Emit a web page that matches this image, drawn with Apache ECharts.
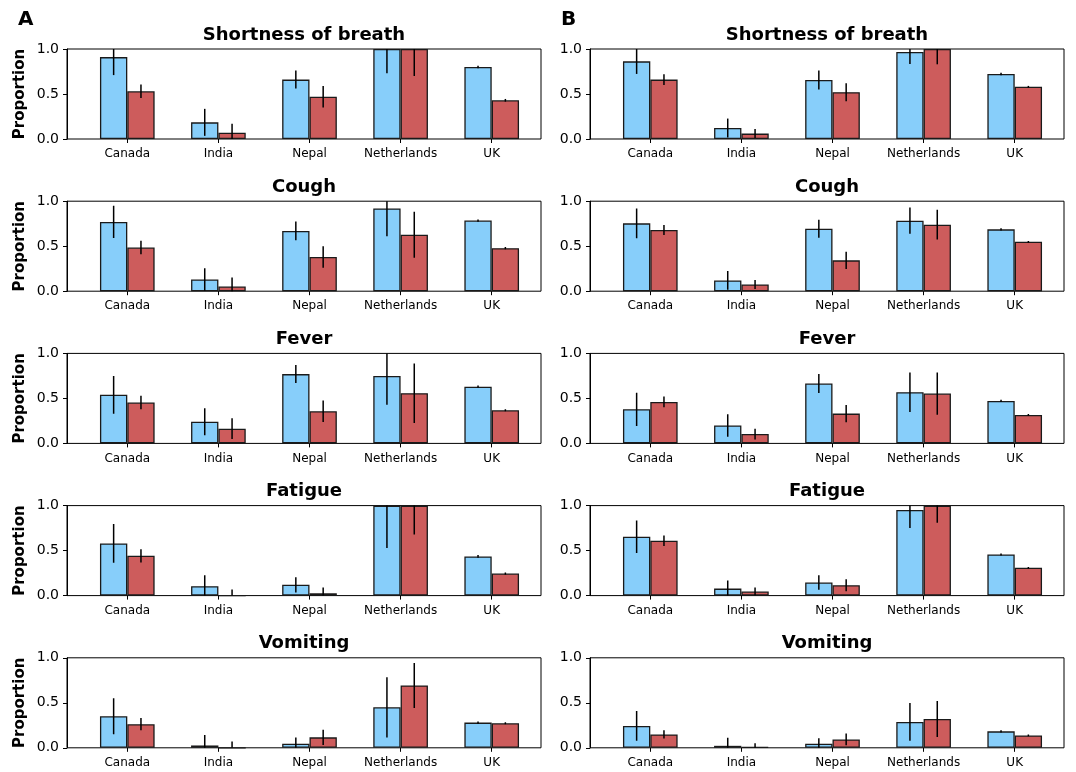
<!DOCTYPE html>
<html>
<head>
<meta charset="utf-8">
<script src="https://cdn.jsdelivr.net/npm/echarts@6/dist/echarts.min.js"></script>
<style>
  html, body { margin: 0; padding: 0; background: #fff; }
  #chart { width: 1076px; height: 772px; }
</style>
</head>
<body>
<div id="chart"></div>
<script>
// Countries on the x axis of every panel
const categories = ['Canada', 'India', 'Nepal', 'Netherlands', 'UK'];
// One row of panels per symptom
const symptoms = ['Shortness of breath', 'Cough', 'Fever', 'Fatigue', 'Vomiting'];
const panelLetters = ['A', 'B'];
const yTicks = [0, 0.5, 1.0];

// Panel A — proportions (blue / red groups) and error half-widths, one list per symptom
const aBlue = [
  [0.91, 0.185, 0.66, 1.0, 0.80],
  [0.77, 0.13, 0.67, 0.92, 0.785],
  [0.54, 0.24, 0.77, 0.75, 0.63],
  [0.58, 0.105, 0.12, 1.0, 0.435],
  [0.35, 0.026, 0.045, 0.45, 0.28]
];
const aBlueErr = [
  [0.20, 0.15, 0.10, 0.27, 0.015],
  [0.18, 0.125, 0.105, 0.31, 0.012],
  [0.21, 0.15, 0.10, 0.32, 0.012],
  [0.215, 0.12, 0.085, 0.47, 0.015],
  [0.20, 0.115, 0.07, 0.335, 0.012]
];
const aRed = [
  [0.53, 0.07, 0.47, 1.0, 0.43],
  [0.485, 0.052, 0.38, 0.627, 0.478],
  [0.454, 0.164, 0.357, 0.558, 0.368],
  [0.442, 0.0, 0.026, 1.0, 0.245],
  [0.262, 0.0, 0.116, 0.693, 0.273]
];
const aRedErr = [
  [0.075, 0.10, 0.12, 0.30, 0.015],
  [0.075, 0.10, 0.12, 0.255, 0.012],
  [0.075, 0.115, 0.12, 0.33, 0.012],
  [0.073, 0.067, 0.063, 0.32, 0.012],
  [0.068, 0.07, 0.085, 0.25, 0.01]
];

// Panel B
const bBlue = [
  [0.863, 0.122, 0.656, 0.967, 0.722],
  [0.754, 0.12, 0.694, 0.784, 0.687],
  [0.379, 0.20, 0.665, 0.569, 0.472],
  [0.654, 0.078, 0.145, 0.952, 0.457],
  [0.243, 0.022, 0.045, 0.287, 0.183]
];
const bBlueErr = [
  [0.14, 0.105, 0.105, 0.135, 0.015],
  [0.165, 0.105, 0.10, 0.145, 0.012],
  [0.185, 0.125, 0.105, 0.22, 0.012],
  [0.18, 0.09, 0.08, 0.20, 0.012],
  [0.165, 0.09, 0.06, 0.21, 0.012]
];
const bRed = [
  [0.66, 0.06, 0.52, 1.0, 0.58],
  [0.68, 0.075, 0.343, 0.739, 0.549],
  [0.461, 0.104, 0.331, 0.554, 0.316],
  [0.61, 0.045, 0.115, 1.0, 0.309],
  [0.149, 0.011, 0.093, 0.321, 0.138]
];
const bRedErr = [
  [0.06, 0.05, 0.10, 0.17, 0.01],
  [0.055, 0.05, 0.095, 0.165, 0.01],
  [0.06, 0.06, 0.095, 0.235, 0.01],
  [0.058, 0.045, 0.067, 0.19, 0.01],
  [0.045, 0.04, 0.065, 0.20, 0.01]
];

const BLUE = '#87CEFA';
const RED = '#CD5C5C';
const FONT = '"DejaVu Sans", sans-serif';

const panels = [
  { blue: aBlue, blueErr: aBlueErr, red: aRed, redErr: aRedErr },
  { blue: bBlue, blueErr: bBlueErr, red: bRed, redErr: bRedErr }
];

// Layout of the frames (axes boxes)
const colLeft = [67, 590];
const frameW = 474;
const rowTop0 = 49, rowStep = 152.2, frameH = 90;
// Width of one category band and where the first category centre sits inside a frame
const unit = 91.1;
const firstCenter = 60.3;
const innerInset = firstCenter - unit / 2;

const grid = [], xAxis = [], yAxis = [], series = [], title = [];

function errorBars(gi, vals, errs, side) {
  return {
    type: 'custom',
    xAxisIndex: gi, yAxisIndex: gi,
    clip: true,
    z: 5,
    data: vals.map((v, i) => [i, v, errs[i]]),
    renderItem: function (params, api) {
      const idx = api.value(0), v = api.value(1), e = api.value(2);
      const band = api.size([1, 0])[0];
      const dx = side * band * 0.15;
      const p1 = api.coord([idx, v - e]);
      const p2 = api.coord([idx, v + e]);
      return {
        type: 'line',
        shape: { x1: p1[0] + dx, y1: p1[1], x2: p2[0] + dx, y2: p2[1] },
        style: { stroke: '#000', lineWidth: 1.5 }
      };
    }
  };
}

for (let r = 0; r < symptoms.length; r++) {
  for (let c = 0; c < 2; c++) {
    const top = rowTop0 + r * rowStep;
    const left = colLeft[c];
    const fi = grid.length;       // frame grid
    const ii = fi + 1;            // inner grid for the bars
    grid.push({ left: left, top: top, width: frameW, height: frameH, show: true,
      borderColor: '#000', borderWidth: 1, backgroundColor: 'transparent', containLabel: false });
    grid.push({ left: left + innerInset, top: top, width: 5 * unit, height: frameH, containLabel: false });

    xAxis.push({ type: 'value', gridIndex: fi, show: false, min: 0, max: 1 });
    xAxis.push({
      type: 'category', gridIndex: ii, data: categories,
      axisLine: { show: false },
      axisTick: { show: true, alignWithLabel: true, length: 4, lineStyle: { color: '#000', width: 1 } },
      axisLabel: { color: '#000', fontFamily: FONT, fontSize: 12, margin: 9, interval: 0 },
      splitLine: { show: false }
    });

    yAxis.push({
      type: 'value', gridIndex: fi, min: 0, max: 1, interval: 0.5,
      name: c === 0 ? 'Proportion' : '',
      nameLocation: 'middle', nameGap: 39, nameRotate: 90,
      nameTextStyle: { fontFamily: FONT, fontWeight: 'bold', fontSize: 15, color: '#000' },
      axisLine: { show: true, lineStyle: { color: '#000', width: 1 } },
      axisTick: { show: true, length: 4, lineStyle: { color: '#000', width: 1 } },
      axisLabel: { color: '#000', fontFamily: FONT, fontSize: 14, margin: 8,
        formatter: v => yTicks.includes(v) ? v.toFixed(1) : '' },
      splitLine: { show: false }
    });
    yAxis.push({ type: 'value', gridIndex: ii, min: 0, max: 1, show: false });

    const p = panels[c];
    const barStyle = color => ({ color: color, borderColor: '#1a1a1a', borderWidth: 1.3 });
    series.push({
      type: 'bar', xAxisIndex: ii, yAxisIndex: ii,
      data: p.blue[r], barWidth: 0.3 * unit, barGap: '0%',
      itemStyle: barStyle(BLUE), emphasis: { disabled: true }
    });
    series.push({
      type: 'bar', xAxisIndex: ii, yAxisIndex: ii,
      data: p.red[r], barWidth: 0.3 * unit, barGap: '0%',
      itemStyle: barStyle(RED), emphasis: { disabled: true }
    });
    series.push(errorBars(ii, p.blue[r], p.blueErr[r], -1));
    series.push(errorBars(ii, p.red[r], p.redErr[r], 1));

    title.push({
      text: symptoms[r],
      left: left + frameW / 2, top: top - 23,
      textAlign: 'center',
      padding: 0,
      textStyle: { fontFamily: FONT, fontWeight: 'bold', fontSize: 18, color: '#000' }
    });
  }
}

panelLetters.forEach((t, c) => {
  title.push({
    text: t, left: c === 0 ? 13 : 556, top: 5,
    textStyle: { fontFamily: FONT, fontWeight: 'bold', fontSize: 20, color: '#000' }
  });
});

const chart = echarts.init(document.getElementById('chart'), null, { renderer: 'canvas' });
chart.setOption({
  animation: false,
  backgroundColor: '#fff',
  title: title,
  grid: grid,
  xAxis: xAxis,
  yAxis: yAxis,
  series: series
});
</script>
</body>
</html>
